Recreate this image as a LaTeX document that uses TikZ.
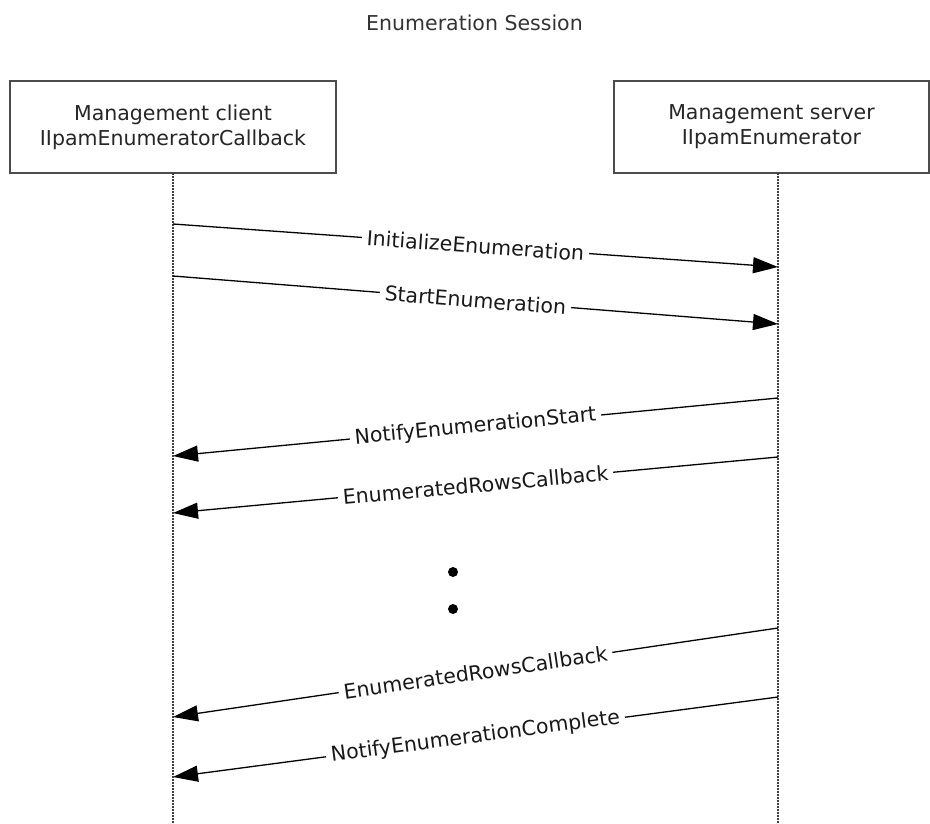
\documentclass[tikz,border=0pt]{standalone}
\usepackage{fontspec}
\setmainfont{DejaVu Sans}
\usetikzlibrary{arrows.meta}
\begin{document}
\begin{tikzpicture}[x=1pt,y=-1pt,
  lifebox/.style={draw=black!70, line width=1.3pt, rectangle, minimum height=92pt, align=center,
    font=\fontsize{20.5}{25}\selectfont, text=black!85, inner sep=0pt},
  lifeline/.style={black!75, line width=1.2pt, dash pattern=on 1.5pt off 1.5pt},
  msg/.style={line width=1.3pt, -{Triangle[length=25pt,width=16pt]}},
  lbl/.style={midway, sloped, fill=white, inner xsep=5pt, inner ysep=2pt,
    font=\fontsize{20.5}{24}\selectfont, text=black!90},
  bigdot/.style={circle, fill=black, inner sep=0pt, minimum size=10pt}]
\useasboundingbox (0,0) rectangle (930,823);
\fill[white] (0,0) rectangle (930,823);
\node[anchor=base, font=\fontsize{20.5}{24}\selectfont, text=black!80] (title) at (474.5,30) {Enumeration Session};
\node[lifebox, minimum width=326pt] (client) at (173,127) {Management client\\IIpamEnumeratorCallback};
\node[lifebox, minimum width=315pt] (server) at (771.5,127) {Management server\\IIpamEnumerator};
% lifelines
\coordinate (cltop) at (173,173);
\coordinate (svtop) at (778,173);
\coordinate (clbot) at (173,823);
\coordinate (svbot) at (778,823);
\draw[lifeline] (cltop) -- (clbot);
\draw[lifeline] (svtop) -- (svbot);
% message anchors
\coordinate (c1) at (173,224); \coordinate (s1) at (778,267);
\coordinate (c2) at (173,276); \coordinate (s2) at (778,324);
\coordinate (s3) at (778,398); \coordinate (c3) at (173,456);
\coordinate (s4) at (778,457); \coordinate (c4) at (173,513);
\coordinate (s5) at (778,628); \coordinate (c5) at (173,717);
\coordinate (s6) at (778,697); \coordinate (c6) at (173,777);
\draw[msg] (c1) -- node[lbl] (l1) {InitializeEnumeration} (s1);
\draw[msg] (c2) -- node[lbl] (l2) {StartEnumeration} (s2);
\draw[msg] (s3) -- node[lbl] (l3) {NotifyEnumerationStart} (c3);
\draw[msg] (s4) -- node[lbl] (l4) {EnumeratedRowsCallback} (c4);
\draw[msg] (s5) -- node[lbl] (l5) {EnumeratedRowsCallback} (c5);
\draw[msg] (s6) -- node[lbl] (l6) {NotifyEnumerationComplete} (c6);
% continuation dots
\node[bigdot] (d1) at (453,572) {};
\node[bigdot] (d2) at (453,609) {};
\end{tikzpicture}
\end{document}
